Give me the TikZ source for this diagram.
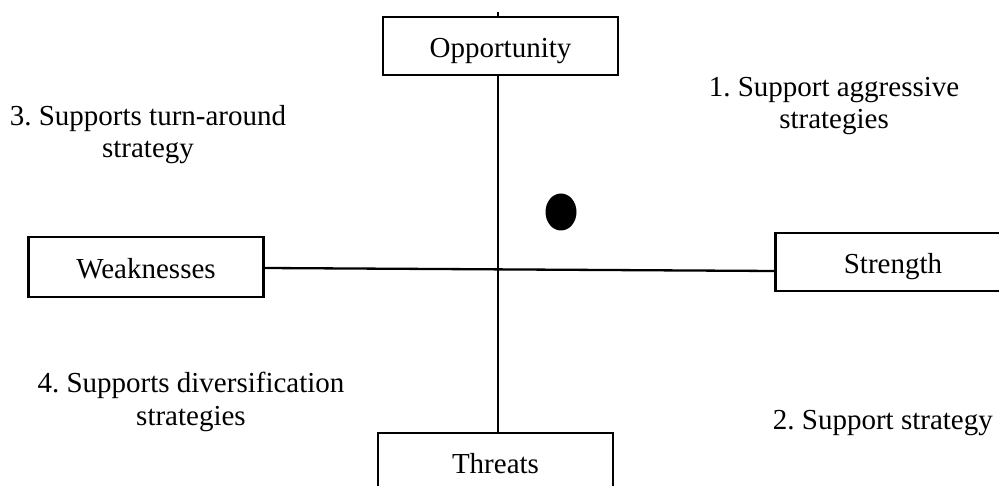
\documentclass[tikz,border=0pt]{standalone}
\usepackage{fontspec}
\setmainfont{Liberation Serif}
\frenchspacing
\begin{document}
\begin{tikzpicture}[x=1pt,y=-1pt,
  box/.style={draw, line width=2.7pt, minimum width=235pt, minimum height=58pt, inner sep=0pt,
    text height=23pt, text depth=0pt, font=\fontsize{29}{33}\selectfont},
  lbl/.style={align=center, inner sep=0pt, font=\fontsize{29}{32.5}\selectfont},
  ln/.style={line width=2.3pt}]
\clip (0,0) rectangle (999,486);
\node[box] (opp) at (500.5,46) {Opportunity};
\node[box] (thr) at (495.5,462) {Threats};
\node[box, minimum height=60pt] (weak) at (146,267) {Weaknesses};
\node[box] (str) at (893,262) {Strength};
\coordinate (vx) at (498,12);
\coordinate (hl) at (0,268);
\coordinate (hr) at (0,271);
\draw[ln] (vx) -- (vx |- opp.north);
\draw[ln] (opp.south -| vx) -- (thr.north -| vx);
\draw[ln] (weak.east |- hl) -- (str.west |- hr);
\fill (561,212) ellipse [x radius=15.5, y radius=18.5];
\node[lbl, anchor=base] (q1) at (834,129) {1. Support aggressive\\strategies};
\node[lbl, anchor=base] (q3) at (148,158) {3. Supports turn-around\\strategy};
\node[lbl, anchor=base] (q4) at (191,425) {4. Supports diversification\\strategies};
\node[lbl, anchor=base east] (q2) at (993,429) {2. Support strategy};
\end{tikzpicture}
\end{document}
